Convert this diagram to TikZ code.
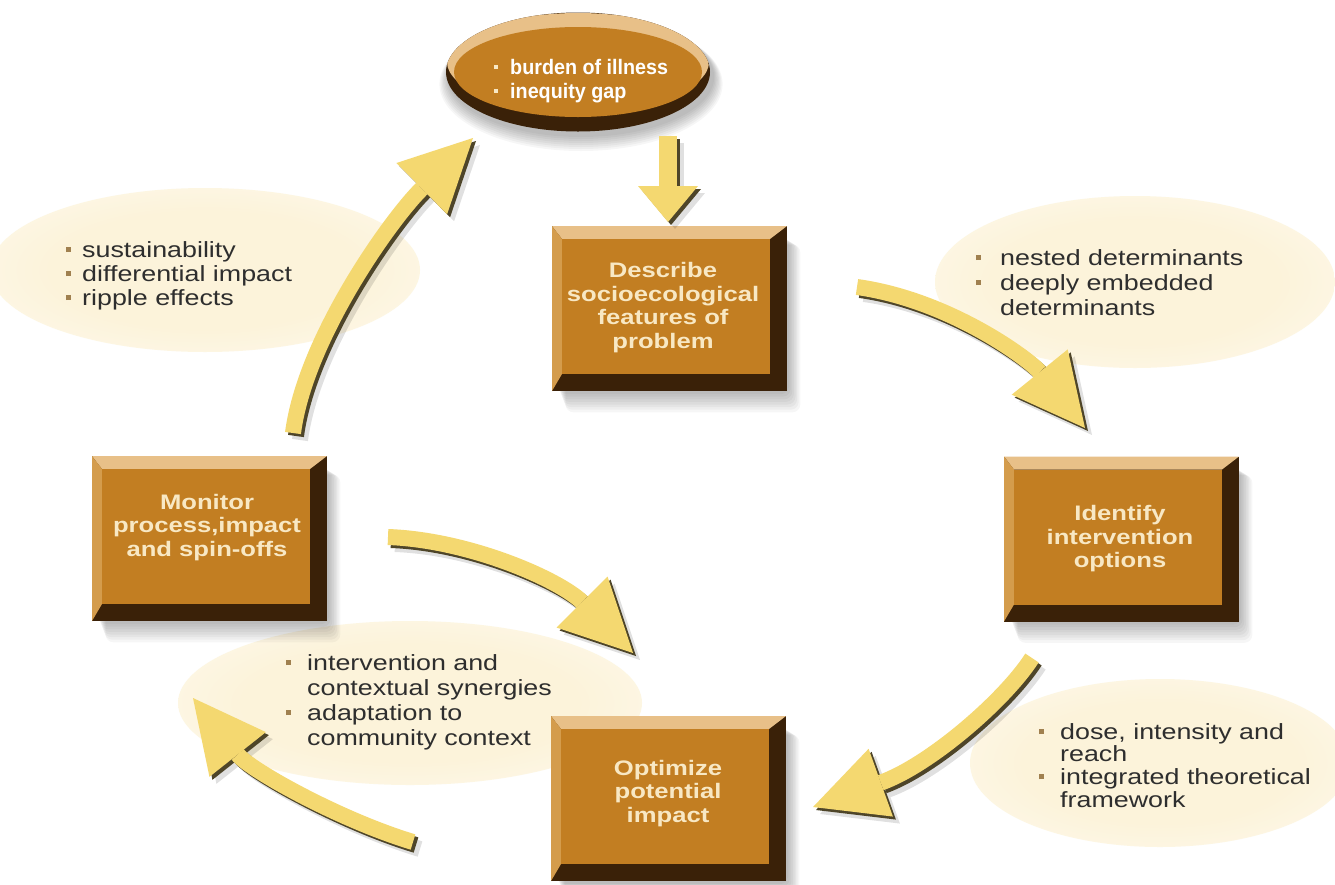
\documentclass[tikz,border=0pt]{standalone}
\usepackage{fontspec}
\usetikzlibrary{arrows.meta,calc,shapes.geometric}
\newfontfamily\wfont{Liberation Sans}[FakeStretch=1.22]
\newfontfamily\nfont{Liberation Sans}[FakeStretch=0.94]
\definecolor{face}{HTML}{C27E22}
\definecolor{bevtop}{HTML}{E8C088}
\definecolor{bevleft}{HTML}{D49C4C}
\definecolor{bevdark}{HTML}{3A2108}
\definecolor{boxtxt}{HTML}{F8E8C4}
\definecolor{cream}{HTML}{FCF3DA}
\definecolor{ayellow}{HTML}{F4D870}
\definecolor{ashadow}{HTML}{4E4529}
\definecolor{bulc}{HTML}{A0804F}
\definecolor{bodytxt}{HTML}{2E2E2E}
\pgfdeclareradialshading{glow}{\pgfpoint{0bp}{0bp}}{color(0bp)=(cream); color(18bp)=(cream); color(50bp)=(white)}
\newcommand{\bl}[1]{\makebox[#1][l]{\textcolor{bulc}{\rule[5pt]{5pt}{5pt}}}}
\newcommand{\wl}[1]{\makebox[#1][l]{\textcolor{boxtxt}{\rule[5pt]{4pt}{4pt}}}}
\newcommand{\shadowrect}[1]{%
  \foreach \i in {1,...,8}{%
    \fill[black, opacity=0.035, rounded corners=8pt] ($(#1)+(-112+\i,-72+\i)$) rectangle ($(#1)+(118+1.6*\i,83+2.6*\i)$);
  }}
\tikzset{
  bevbox/.style={rectangle, inner sep=0pt, minimum width=235pt, minimum height=165pt, fill=bevdark,
    path picture={
      \coordinate (pNW) at (path picture bounding box.north west);
      \coordinate (pNE) at (path picture bounding box.north east);
      \coordinate (pSW) at (path picture bounding box.south west);
      \coordinate (pSE) at (path picture bounding box.south east);
      \fill[bevtop] (pNW) -- (pNE) -- ($(pNE)+(-17,13)$) -- ($(pNW)+(10,13)$) -- cycle;
      \fill[bevleft] (pNW) -- ($(pNW)+(10,13)$) -- ($(pSW)+(10,-17)$) -- (pSW) -- cycle;
      \fill[face] ($(pNW)+(10,13)$) rectangle ($(pSE)+(-17,-17)$);
    }},
  boxtext/.style={text=boxtxt, align=center, inner sep=0pt, font={\wfont\bfseries\fontsize{21}{23.5}\selectfont}},
  bodytext/.style={text=bodytxt, inner sep=0pt, anchor=base west},
  yarrow/.style={draw=ayellow, line width=16pt, -{Triangle[length=72pt,width=72pt,line width=0pt]}},
  yshadow/.style={draw=ashadow, line width=16pt, -{Triangle[length=72pt,width=72pt,line width=0pt]}, transform canvas={xshift=3pt,yshift=-3pt}},
  ysoft/.style={draw=black, opacity=0.12, line width=16pt, -{Triangle[length=72pt,width=72pt,line width=0pt]}, transform canvas={xshift=7pt,yshift=-7pt}},
}
\begin{document}
\begin{tikzpicture}[x=1pt,y=-1pt]
\useasboundingbox (0,0) rectangle (1335,884);
\fill[white] (0,0) rectangle (1335,884);

% soft cream glows
\shade[shading=glow] (205,270) ellipse (215pt and 82pt);
\shade[shading=glow] (1135,282) ellipse (200pt and 86pt);
\shade[shading=glow] (410,703) ellipse (232pt and 82pt);
\shade[shading=glow] (1160,763) ellipse (190pt and 84pt);

% top ellipse
\foreach \i in {1,...,8}{
  \fill[black, opacity=0.035] (581,76+\i) ellipse ({132pt+1.2pt*\i} and {59pt+1pt*\i});
}
\node[ellipse, inner sep=0pt, minimum width=264pt, minimum height=119pt, fill=bevdark,
  path picture={
    \fill[bevtop] ($(path picture bounding box.center)+(0,-10)$) ellipse (131pt and 49pt);
    \fill[face] (path picture bounding box.center) ellipse (124pt and 45pt);
  }] (burden) at (578,72) {};
\node[bodytext, text=white, font={\nfont\bfseries\fontsize{21}{24}\selectfont}] (burden-t) at (494,74)
  {\begin{tabular}[t]{@{}l@{}}\wl{16pt}burden of illness\\ \wl{16pt}inequity gap\end{tabular}};

% boxes
\coordinate (cDescribe) at (669.5,308.5);
\coordinate (cMonitor) at (209.5,538.5);
\coordinate (cIdentify) at (1121.5,539);
\coordinate (cOptimize) at (668.5,798.5);
\shadowrect{cDescribe}
\shadowrect{cMonitor}
\shadowrect{cIdentify}
\shadowrect{cOptimize}
\node[bevbox] (describe) at (cDescribe) {};
\node[bevbox] (monitor) at (cMonitor) {};
\node[bevbox] (identify) at (cIdentify) {};
\node[bevbox] (optimize) at (cOptimize) {};
\node[boxtext] (describe-t) at (663,307.5) {Describe\\socioecological\\features of\\problem};
\node[boxtext] (monitor-t) at (207,527.5) {Monitor\\process,impact\\and spin-offs};
\node[boxtext] (identify-t) at (1120,539) {Identify\\intervention\\options};
\node[boxtext] (optimize-t) at (668,793.5) {Optimize\\potential\\impact};

% bullet texts
\node[bodytext, font={\wfont\fontsize{22}{24}\selectfont}] (tl) at (66,257)
  {\begin{tabular}[t]{@{}l@{}}\bl{16pt}sustainability\\ \bl{16pt}differential impact\\ \bl{16pt}ripple effects\end{tabular}};
\node[bodytext, font={\wfont\fontsize{22}{25}\selectfont}] (tr) at (976,265)
  {\begin{tabular}[t]{@{}l@{}}\bl{24pt}nested determinants\\ \bl{24pt}deeply embedded\\ \hspace*{24pt}determinants\end{tabular}};
\node[bodytext, font={\wfont\fontsize{22}{25}\selectfont}] (bl) at (286,670)
  {\begin{tabular}[t]{@{}l@{}}\bl{21pt}intervention and\\ \hspace*{21pt}contextual synergies\\ \bl{21pt}adaptation to\\ \hspace*{21pt}community context\end{tabular}};
\node[bodytext, font={\wfont\fontsize{22}{22.5}\selectfont}] (br) at (1039,739)
  {\begin{tabular}[t]{@{}l@{}}\bl{21pt}dose, intensity and\\ \hspace*{21pt}reach\\ \bl{21pt}integrated theoretical\\ \hspace*{21pt}framework\end{tabular}};

% arrow end points
\coordinate (a1s) at (668,136);
\coordinate (a1e) at (668,222);
\coordinate (a2s) at (857,287);
\coordinate (a2e) at (1085,428);
\coordinate (a3s) at (1032,658);
\coordinate (a3e) at (813,807);
\coordinate (a4s) at (388,537);
\coordinate (a4e) at (633,653);
\coordinate (a5s) at (413,842);
\coordinate (a5e) at (193,698);
\coordinate (a6s) at (293,433);
\coordinate (a6e) at (473,138);

% arrows: soft shadow, dark edge, yellow body
\foreach \st in {ysoft,yshadow,yarrow}{
  \draw[\st] (a2s) .. controls (950,300) and (1030,360) .. (a2e);
  \draw[\st] (a3s) .. controls (1005,700) and (930,765) .. (a3e);
  \draw[\st] (a4s) .. controls (470,540) and (560,580) .. (a4e);
  \draw[\st] (a5s) .. controls (340,820) and (250,770) .. (a5e);
  \draw[\st] (a6s) .. controls (305,340) and (390,220) .. (a6e);
  \draw[\st, line width=18pt, -{Triangle[length=36pt,width=60pt,line width=0pt]}] (a1s) -- (a1e);
}
\end{tikzpicture}
\end{document}
